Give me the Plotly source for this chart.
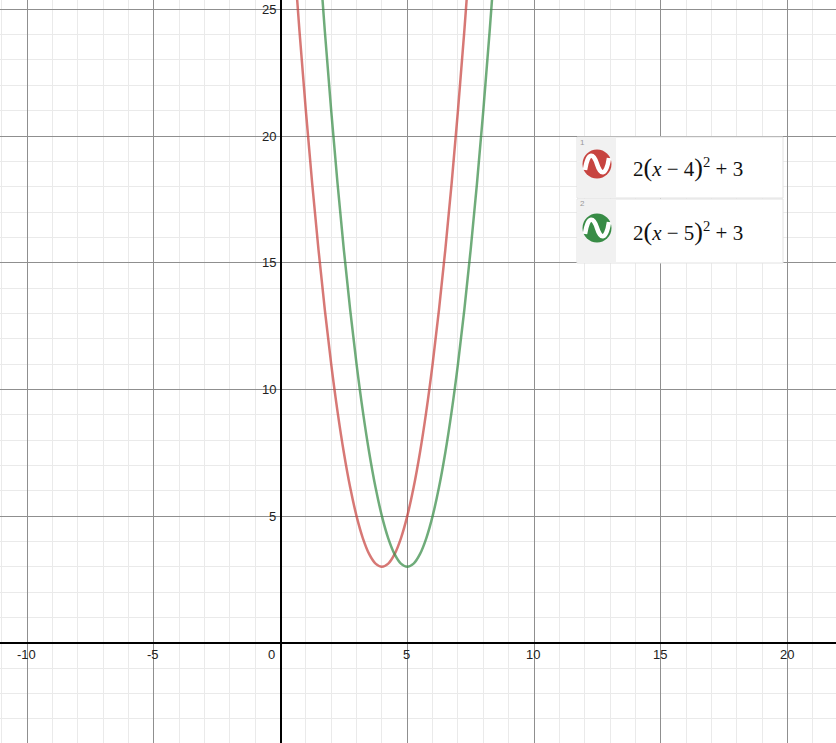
import plotly.graph_objects as go

W, H = 836, 743
X_RANGE = [-11.065, 21.913]
Y_RANGE = [-3.954, 25.367]

# curve samples
red_x = [0.5, 0.75, 1.0, 1.25, 1.5, 1.75, 2.0, 2.25, 2.5, 2.75, 3.0, 3.25, 3.5, 3.75,
         4.0, 4.25, 4.5, 4.75, 5.0, 5.25, 5.5, 5.75, 6.0, 6.25, 6.5, 6.75, 7.0, 7.25, 7.5]
red_y = [27.5, 24.125, 21.0, 18.125, 15.5, 13.125, 11.0, 9.125, 7.5, 6.125, 5.0, 4.125, 3.5, 3.125,
         3.0, 3.125, 3.5, 4.125, 5.0, 6.125, 7.5, 9.125, 11.0, 13.125, 15.5, 18.125, 21.0, 24.125, 27.5]
green_x = [1.5, 1.75, 2.0, 2.25, 2.5, 2.75, 3.0, 3.25, 3.5, 3.75, 4.0, 4.25, 4.5, 4.75,
           5.0, 5.25, 5.5, 5.75, 6.0, 6.25, 6.5, 6.75, 7.0, 7.25, 7.5, 7.75, 8.0, 8.25, 8.5]
green_y = [27.5, 24.125, 21.0, 18.125, 15.5, 13.125, 11.0, 9.125, 7.5, 6.125, 5.0, 4.125, 3.5, 3.125,
           3.0, 3.125, 3.5, 4.125, 5.0, 6.125, 7.5, 9.125, 11.0, 13.125, 15.5, 18.125, 21.0, 24.125, 27.5]

x_ticks = [-10, -5, 5, 10, 15, 20]
y_ticks = [5, 10, 15, 20, 25]

expr_shift = ["4", "5"]
expr_colors = ["#c74440", "#388c46"]

RED_LINE = "rgba(199,68,64,0.72)"
GREEN_LINE = "rgba(56,140,70,0.72)"


def px(v):
    return v / W


def py(v):
    return 1 - v / H


def expr_text(k):
    big = '<span style="font-size:26px">'
    sp = "\u00a0"
    return (f"2{big}(</span><i>x</i>{sp}−{sp}{k}{big})</span><sup>2</sup>{sp}+{sp}3")


fig = go.Figure()
fig.add_scatter(x=red_x, y=red_y, mode="lines", line=dict(color=RED_LINE, width=2.5, shape="spline"),
                hoverinfo="skip")
fig.add_scatter(x=green_x, y=green_y, mode="lines", line=dict(color=GREEN_LINE, width=2.5, shape="spline"),
                hoverinfo="skip")

tick_font = dict(family="Liberation Sans, Arial, sans-serif", size=13, color="#222222")
ann = []
for t in x_ticks:
    ann.append(dict(x=t, y=0, xref="x", yref="y", text=str(t) if t > 0 else "-" + str(-t),
                    showarrow=False, yshift=-12, xshift=-1, font=tick_font))
ann.append(dict(x=0, y=0, xref="x", yref="y", text="0", showarrow=False,
                yshift=-12, xshift=-9, font=tick_font))
for t in y_ticks:
    ann.append(dict(x=0, y=t, xref="x", yref="y", text=str(t), showarrow=False,
                    xanchor="right", xshift=-3, font=tick_font))

# expression list panel (Desmos style)
shapes = []
row_top = [137, 199]
row_bot = [198, 263]
for i in range(2):
    shapes.append(dict(type="rect", xref="paper", yref="paper", layer="above",
                       x0=px(577), x1=px(783), y0=py(row_bot[i]), y1=py(row_top[i]),
                       fillcolor="#ffffff", line=dict(color="#e2e2e2", width=1)))
    shapes.append(dict(type="rect", xref="paper", yref="paper", layer="above",
                       x0=px(577.5), x1=px(616), y0=py(row_bot[i] - 0.5), y1=py(row_top[i] + 0.5),
                       fillcolor="#f1f1f1", line=dict(width=0)))
    cy = [164, 228][i]
    cx = 597
    r = 14.5
    shapes.append(dict(type="circle", xref="paper", yref="paper", layer="above",
                       x0=px(cx - r), x1=px(cx + r), y0=py(cy + r), y1=py(cy - r),
                       fillcolor=expr_colors[i], line=dict(width=0)))
    path = (f"M{px(cx - 12)},{py(cy + 6)} "
            f"C{px(cx - 9)},{py(cy - 14)} {px(cx - 3)},{py(cy - 10)} {px(cx)},{py(cy)} "
            f"S{px(cx + 9)},{py(cy + 14)} {px(cx + 12)},{py(cy - 6)}")
    shapes.append(dict(type="path", xref="paper", yref="paper", layer="above", path=path,
                       line=dict(color="#ffffff", width=4.5)))
    ann.append(dict(x=px(578), y=py(row_top[i] + 5), xref="paper", yref="paper", text=str(i + 1),
                    showarrow=False, xanchor="left", yanchor="middle",
                    font=dict(family="Liberation Sans, Arial", size=8, color="#999999")))
    ann.append(dict(x=px(631), y=py(cy + 3), xref="paper", yref="paper", text=expr_text(expr_shift[i]),
                    showarrow=False, xanchor="left", yanchor="middle",
                    font=dict(family="Liberation Serif, Times New Roman, serif", size=21, color="#111111")))

axis_common = dict(showticklabels=False, ticks="", dtick=5, tick0=0,
                   showgrid=True, gridcolor="#8f8f8f", gridwidth=1,
                   minor=dict(dtick=1, tick0=0, showgrid=True, gridcolor="#eaeaea", gridwidth=1),
                   zeroline=True, zerolinecolor="#000000", zerolinewidth=1.6,
                   showline=False, fixedrange=True)

fig.update_layout(
    width=W, height=H,
    margin=dict(l=0, r=0, t=0, b=0),
    paper_bgcolor="#ffffff", plot_bgcolor="#ffffff",
    showlegend=False,
    xaxis=dict(range=X_RANGE, **axis_common),
    yaxis=dict(range=Y_RANGE, **axis_common),
    shapes=shapes,
    annotations=ann,
)

fig.write_html("out.html", config=dict(displayModeBar=False),
               post_script="document.body.style.margin='0';")
